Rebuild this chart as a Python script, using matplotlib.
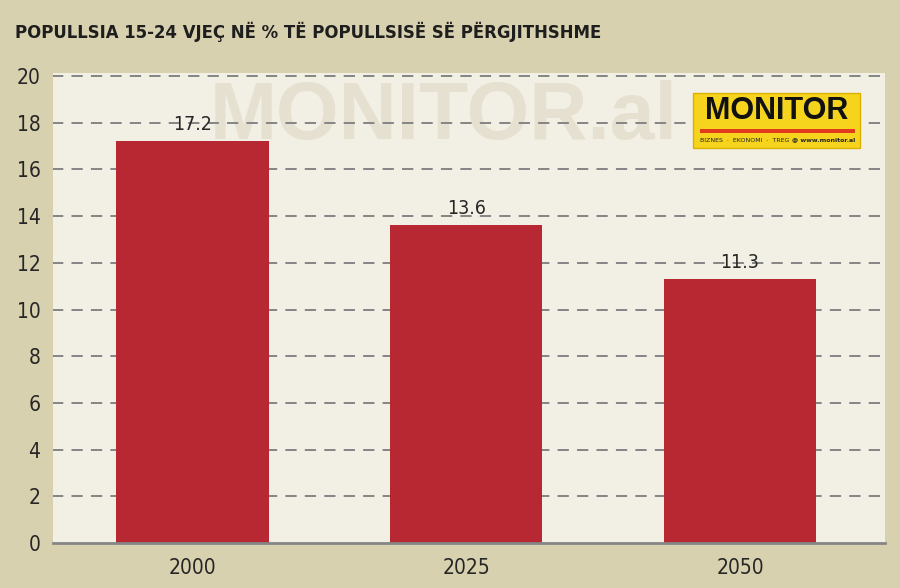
import matplotlib
matplotlib.use("Agg")
import matplotlib.pyplot as plt
from matplotlib.patches import Rectangle
import matplotlib.font_manager as fm

years = ["2000", "2025", "2050"]
values = [17.2, 13.6, 11.3]
yticks = [0, 2, 4, 6, 8, 10, 12, 14, 16, 18, 20]
title = "POPULLSIA 15-24 VJEÇ NË % TË POPULLSISË SË PËRGJITHSHME"

# look for a condensed / narrow face if one is installed
narrow_family, narrow_stretch = "Liberation Sans", "normal"
for f in fm.fontManager.ttflist:
    st = str(f.stretch)
    if "Narrow" in f.name or "Condensed" in f.name:
        narrow_family, narrow_stretch = f.name, "normal"
        break
    if st in ("condensed", "semi-condensed", "extra-condensed") or (isinstance(f.stretch, int) and f.stretch < 500):
        narrow_family, narrow_stretch = f.name, st
        break

BG = "#d8d1b0"
PANEL = "#f2efe4"
RED = "#b72833"
TXT = "#262626"
GRID = "#858585"

fig = plt.figure(figsize=(9, 5.88), dpi=100, facecolor=BG)
ax = fig.add_axes([53/900, 45/588, (885-53)/900, (543-73)/588])
ax.set_facecolor(PANEL)

x = list(range(len(years)))
ax.set_xlim(-0.51, 2.53)
ax.set_ylim(0, 20.13)

# watermark
ax.text(0.47, 0.905, "MONITOR.al", transform=ax.transAxes, ha="center", va="center",
        fontsize=58, fontweight="bold", color="#e5e0cf", zorder=0.5,
        family="Liberation Sans")

for t in yticks[1:]:
    ax.axhline(t, color=GRID, lw=1.4, ls=(0.5, (5.8, 4.2)), zorder=1)

bars = ax.bar(x, values, width=0.556, color=RED, zorder=2)
for xi, v in zip(x, values):
    ax.text(xi, v + 0.72, f"{v}", ha="center", va="center", fontsize=14,
            color=TXT, family=narrow_family, stretch=narrow_stretch, zorder=3)

ax.set_xticks(x)
ax.set_xticklabels(years)
ax.set_yticks(yticks)
ax.tick_params(axis="both", length=0, labelsize=15, colors=TXT, pad=11)
ax.tick_params(axis="y", pad=9)
for lab in ax.get_xticklabels() + ax.get_yticklabels():
    lab.set_family(narrow_family)
    lab.set_stretch(narrow_stretch)

for s in ["top", "right", "left"]:
    ax.spines[s].set_visible(False)
ax.spines["bottom"].set_color(GRID)
ax.spines["bottom"].set_linewidth(2)
ax.spines["bottom"].set_zorder(4)

# title, sized to span the same width as the reference
ttl = fig.text(15/900, 1 - 32/588, title, ha="left", va="center", fontsize=19,
               fontweight="heavy", color="#1e1e1e", family=narrow_family,
               stretch=narrow_stretch)
fig.canvas.draw()
w = ttl.get_window_extent(fig.canvas.get_renderer()).width
ttl.set_fontsize(19 * min(1.0, 585 / w))

# logo box
lx0, ly0, lw, lh = 693/900, 1 - 148/588, 167/900, 55/588
fig.patches.append(Rectangle((lx0, ly0), lw, lh, transform=fig.transFigure,
                             facecolor="#f6d31c", edgecolor="#d9b200", lw=1, zorder=5))
fig.text(lx0 + lw/2, 1 - 111/588, "MONITOR", ha="center", va="center",
         fontsize=22, fontweight="bold", color="#111111", family="Liberation Sans", zorder=6)
fig.patches.append(Rectangle((700/900, 1 - 133/588), 155/900, 4/588, transform=fig.transFigure,
                             facecolor="#e23a1f", edgecolor="none", zorder=6))
fig.text(700/900, 1 - 140/588, "BIZNES  ·  EKONOMI  ·  TREG", ha="left", va="center",
         fontsize=4.5, color="#222222", zorder=6)
fig.text(855/900, 1 - 140/588, "@ www.monitor.al", ha="right", va="center",
         fontsize=4.5, fontweight="bold", color="#222222", zorder=6)

fig.savefig("out.png", dpi=100, facecolor=BG)
